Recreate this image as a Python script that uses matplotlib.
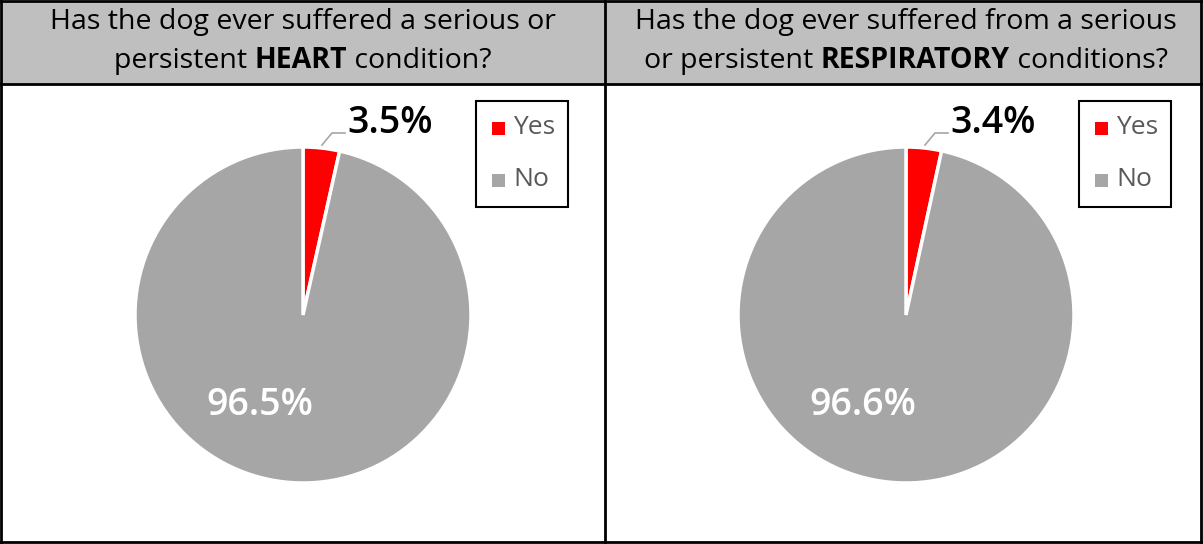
import matplotlib.pyplot as plt
from matplotlib.patches import Rectangle
from matplotlib.lines import Line2D

W, H = 1203, 544

labels = ["Yes", "No"]
heart = [3.5, 96.5]
resp = [3.4, 96.6]
title_parts = [
    [[("Has the dog ever suffered a serious or", "normal")],
     [("persistent ", "normal"), ("HEART", "bold"), (" condition?", "normal")]],
    [[("Has the dog ever suffered from a serious", "normal")],
     [("or persistent ", "normal"), ("RESPIRATORY", "bold"), (" conditions?", "normal")]],
]
colors = ["#FF0000", "#A6A6A6"]

plt.rcParams['font.family'] = ['Open Sans', 'DejaVu Sans']

fig = plt.figure(figsize=(W / 100, H / 100), dpi=100)
fig.patch.set_facecolor("white")


def fx(x):
    return x / W


def fy(y):
    return 1 - y / H


# header band and frame, drawn on top of the pies
bg = fig.add_axes([0, 0, 1, 1])
bg.set_zorder(3)
bg.set_xlim(0, W)
bg.set_ylim(H, 0)
bg.axis("off")
bg.add_patch(Rectangle((1, 1), W - 2, 83, facecolor="#BFBFBF", edgecolor="none"))
for seg in [((1, 1), (1, H - 2)), ((W - 2, W - 2), (1, H - 2)),
            ((1, W - 2), (1, 1)), ((1, W - 2), (H - 2, H - 2)),
            ((1, W - 2), (84, 84)), ((605, 605), (1, H - 2))]:
    bg.add_line(Line2D(seg[0], seg[1], color="black", lw=2))

renderer = fig.canvas.get_renderer()


def mixed_line(cx, y, parts, size=20.5):
    # draw bold/normal pieces side by side, centred on cx
    widths = []
    for txt, wt in parts:
        t = bg.text(0, 0, txt, fontsize=size, fontweight=wt)
        widths.append(t.get_window_extent(renderer).width)
        t.remove()
    x = cx - sum(widths) / 2
    for (txt, wt), w in zip(parts, widths):
        bg.text(x, y, txt, fontsize=size, fontweight=wt, color="black",
                va="center", ha="left")
        x += w


R = 168
for i, (vals, cx) in enumerate([(heart, 303), (resp, 906)]):
    for j, line in enumerate(title_parts[i]):
        mixed_line(cx, [22, 61][j], line)

    cy = 315
    ax = fig.add_axes([fx(cx - R), fy(cy + R), 2 * R / W, 2 * R / H])
    ax.set_zorder(1)
    ax.pie(vals, colors=colors, startangle=90, counterclock=False,
           wedgeprops=dict(edgecolor="white", linewidth=2.5))
    ax.set_xlim(-1, 1)
    ax.set_ylim(-1, 1)
    ax.set_aspect("auto")

    # leader line and slice labels
    bg.plot([cx + 19, cx + 29, cx + 42], [145, 133, 133], color="#A6A6A6", lw=1.2)
    bg.text(cx + 44, 123, f"{vals[0]:.1f}%", fontsize=27, fontweight="semibold",
            color="black", va="center", ha="left")
    bg.text(cx - 43, 405, f"{vals[1]:.1f}%", fontsize=27, fontweight="semibold",
            color="white", va="center", ha="center")

    # legend box
    lx = cx + 173
    bg.add_patch(Rectangle((lx, 101), 92, 106, facecolor="white",
                           edgecolor="black", lw=1.5))
    for k, (lab, col) in enumerate(zip(labels, colors)):
        yy = [128, 180][k]
        bg.add_patch(Rectangle((lx + 16, yy - 6.5), 13, 13, facecolor=col,
                               edgecolor="none"))
        bg.text(lx + 37, yy, lab, fontsize=19, color="#595959",
                va="center", ha="left")

fig.savefig("out.png", dpi=100)
